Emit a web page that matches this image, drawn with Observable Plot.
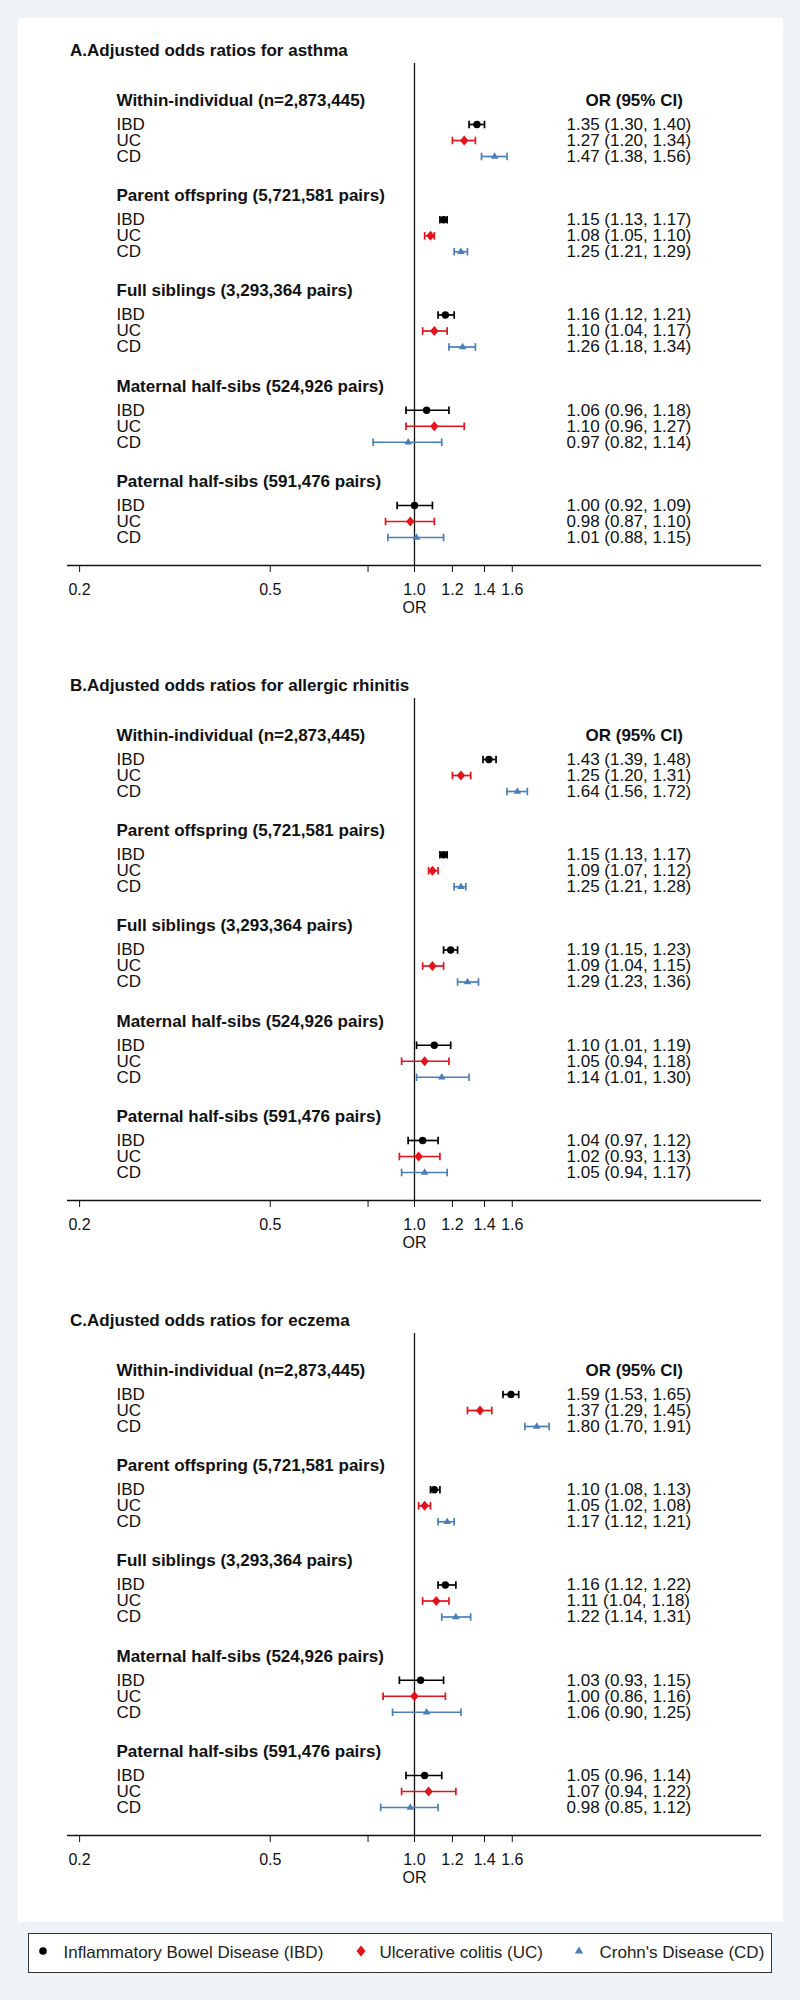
<!DOCTYPE html>
<html><head><meta charset="utf-8">
<script src="https://cdn.jsdelivr.net/npm/d3@7"></script>
<script src="https://cdn.jsdelivr.net/npm/@observablehq/plot@0.6"></script>
<style>
html,body{margin:0;padding:0;background:#eef3f7;width:800px;height:2000px;font-family:"Liberation Sans",Arial,sans-serif;color:#111;}
#card{position:absolute;left:18px;top:18px;width:765px;height:1904px;background:#fff;}
.panel{position:absolute;left:0;width:765px;height:635px;}
.panel svg{position:absolute;left:0;top:0;}
.ptitle{position:absolute;left:52px;top:22px;font-size:17px;font-weight:bold;line-height:22px;white-space:nowrap;z-index:2;}
#legend{position:absolute;left:28px;top:1933px;width:744px;height:40px;box-sizing:border-box;border:1.5px solid #333;background:#fff;font-size:17px;color:#222;}
.li{position:absolute;top:0;height:37px;line-height:37px;white-space:nowrap;}
.lg{position:absolute;top:0;}
</style>
</head><body>
<div id="card"></div>
<div id="legend"></div>
<script>
const diseases = ["IBD", "UC", "CD"];
const diseaseNames = ["Inflammatory Bowel Disease (IBD)", "Ulcerative colitis (UC)", "Crohn's Disease (CD)"];
const groupLabels = [
  "Within-individual (n=2,873,445)",
  "Parent offspring (5,721,581 pairs)",
  "Full siblings (3,293,364 pairs)",
  "Maternal half-sibs (524,926 pairs)",
  "Paternal half-sibs (591,476 pairs)"
];
const panelTitles = [
  "A.Adjusted odds ratios for asthma",
  "B.Adjusted odds ratios for allergic rhinitis",
  "C.Adjusted odds ratios for eczema"
];
const xTicks = [0.2, 0.5, 0.8, 1.0, 1.2, 1.4, 1.6];

// order: for each group, IBD, UC, CD
const asthmaOR = [1.35,1.27,1.47, 1.15,1.08,1.25, 1.16,1.10,1.26, 1.06,1.10,0.97, 1.00,0.98,1.01];
const asthmaLo = [1.30,1.20,1.38, 1.13,1.05,1.21, 1.12,1.04,1.18, 0.96,0.96,0.82, 0.92,0.87,0.88];
const asthmaHi = [1.40,1.34,1.56, 1.17,1.10,1.29, 1.21,1.17,1.34, 1.18,1.27,1.14, 1.09,1.10,1.15];

const rhinitisOR = [1.43,1.25,1.64, 1.15,1.09,1.25, 1.19,1.09,1.29, 1.10,1.05,1.14, 1.04,1.02,1.05];
const rhinitisLo = [1.39,1.20,1.56, 1.13,1.07,1.21, 1.15,1.04,1.23, 1.01,0.94,1.01, 0.97,0.93,0.94];
const rhinitisHi = [1.48,1.31,1.72, 1.17,1.12,1.28, 1.23,1.15,1.36, 1.19,1.18,1.30, 1.12,1.13,1.17];

const eczemaOR = [1.59,1.37,1.80, 1.10,1.05,1.17, 1.16,1.11,1.22, 1.03,1.00,1.06, 1.05,1.07,0.98];
const eczemaLo = [1.53,1.29,1.70, 1.08,1.02,1.12, 1.12,1.04,1.14, 0.93,0.86,0.90, 0.96,0.94,0.85];
const eczemaHi = [1.65,1.45,1.91, 1.13,1.08,1.21, 1.22,1.18,1.31, 1.15,1.16,1.25, 1.14,1.22,1.12];

const panels = [
  [asthmaOR, asthmaLo, asthmaHi],
  [rhinitisOR, rhinitisLo, rhinitisHi],
  [eczemaOR, eczemaLo, eczemaHi]
];

const colorRange = ["#000000", "#e3121b", "#4a7ebb"];
const FONT = '"Liberation Sans", Arial, sans-serif';
const ROW = 16, GROUP_STEP = 95.25 / ROW, HEADER_GAP = 1.5, AXIS_U = (547 - 82) / ROW;

const capSymbol = {draw(ctx) { ctx.moveTo(0, -3.8); ctx.lineTo(0, 3.8); }};
const diamondSymbol = {draw(ctx) { ctx.moveTo(0, -4.9); ctx.lineTo(4.2, 0); ctx.lineTo(0, 4.9); ctx.lineTo(-4.2, 0); ctx.closePath(); }};
const f2 = v => v.toFixed(2);

const card = document.getElementById("card");
panels.forEach(([or, lo, hi], k) => {
  const rows = or.map((v, i) => {
    const g = Math.floor(i / 3), r = i % 3;
    return {g, r, d: diseases[r], or: v, lo: lo[i], hi: hi[i], y: g * GROUP_STEP + HEADER_GAP + r};
  });
  const headers = groupLabels.map((t, g) => ({t, y: g * GROUP_STEP}));
  const chart = Plot.plot({
    width: 765, height: 635,
    marginLeft: 49, marginRight: 22, marginTop: 82, marginBottom: 88,
    style: {fontFamily: FONT, fontSize: "17px", color: "#111", background: "transparent"},
    x: {type: "log", domain: [0.1887, 5.30]},
    y: {domain: [0, AXIS_U], range: [82, 547], axis: null},
    color: {domain: diseases, range: colorRange},
    marks: [
      Plot.ruleY([AXIS_U], {stroke: "#111", strokeWidth: 1.3}),
      Plot.axisX({ticks: xTicks, tickFormat: d => d.toFixed(1), tickSize: 7, tickPadding: 11, fontSize: 16, label: null, stroke: "#111", fill: "#111"}),
      Plot.text(["OR"], {x: () => 1, frameAnchor: "bottom", dy: 47, fontSize: 16, fill: "#111"}),
      Plot.ruleX([1], {insetTop: -37, stroke: "#111", strokeWidth: 1.3}),
      Plot.text(headers, {y: "y", text: "t", frameAnchor: "left", dx: 49, textAnchor: "start", fontWeight: "bold", fill: "#111"}),
      Plot.text(headers.slice(0, 1), {y: "y", text: () => "OR (95% CI)", frameAnchor: "right", dx: -176, textAnchor: "start", fontWeight: "bold", fill: "#111"}),
      Plot.text(rows, {y: "y", text: "d", frameAnchor: "left", dx: 49, textAnchor: "start", fill: "#111"}),
      Plot.text(rows, {y: "y", text: o => `${f2(o.or)} (${f2(o.lo)}, ${f2(o.hi)})`, frameAnchor: "right", dx: -195, textAnchor: "start", fill: "#111"}),
      Plot.ruleY(rows, {x1: "lo", x2: "hi", y: "y", stroke: "d", strokeWidth: 1.7}),
      Plot.dot(rows, {x: "lo", y: "y", symbol: capSymbol, stroke: "d", strokeWidth: 1.7}),
      Plot.dot(rows, {x: "hi", y: "y", symbol: capSymbol, stroke: "d", strokeWidth: 1.7}),
      Plot.dot(rows.filter(o => o.d === "IBD"), {x: "or", y: "y", r: 3.7, fill: "d", symbol: "circle"}),
      Plot.dot(rows.filter(o => o.d === "UC"), {x: "or", y: "y", fill: "d", symbol: diamondSymbol}),
      Plot.dot(rows.filter(o => o.d === "CD"), {x: "or", y: "y", r: 2.8, fill: "d", symbol: "triangle"})
    ]
  });
  const div = document.createElement("div");
  div.className = "panel";
  div.style.top = (k * 635) + "px";
  const t = document.createElement("div");
  t.className = "ptitle";
  t.textContent = panelTitles[k];
  div.appendChild(chart);
  div.appendChild(t);
  card.appendChild(div);
});

// legend
const legend = document.getElementById("legend");
const glyphs = [
  '<circle cx="8" cy="8" r="3.8" fill="#000"/>',
  '<path d="M8,2.4L12.5,8L8,13.6L3.5,8Z" fill="#e3121b"/>',
  '<path d="M8,3.4L12.2,10.6L3.8,10.6Z" fill="#4a7ebb"/>'
];
const glyphX = [14, 332, 550], textX = [36, 352, 572];
diseaseNames.forEach((name, i) => {
  const g = document.createElement("div");
  g.className = "lg";
  g.style.left = (glyphX[i] - 8) + "px";
  g.style.top = (18.5 - 8 - 1.5) + "px";
  g.innerHTML = `<svg width="16" height="16">${glyphs[i]}</svg>`;
  legend.appendChild(g);
  const s = document.createElement("div");
  s.className = "li";
  s.style.left = (textX[i] - 1.5) + "px";
  s.textContent = name;
  legend.appendChild(s);
});
</script>
</body></html>
